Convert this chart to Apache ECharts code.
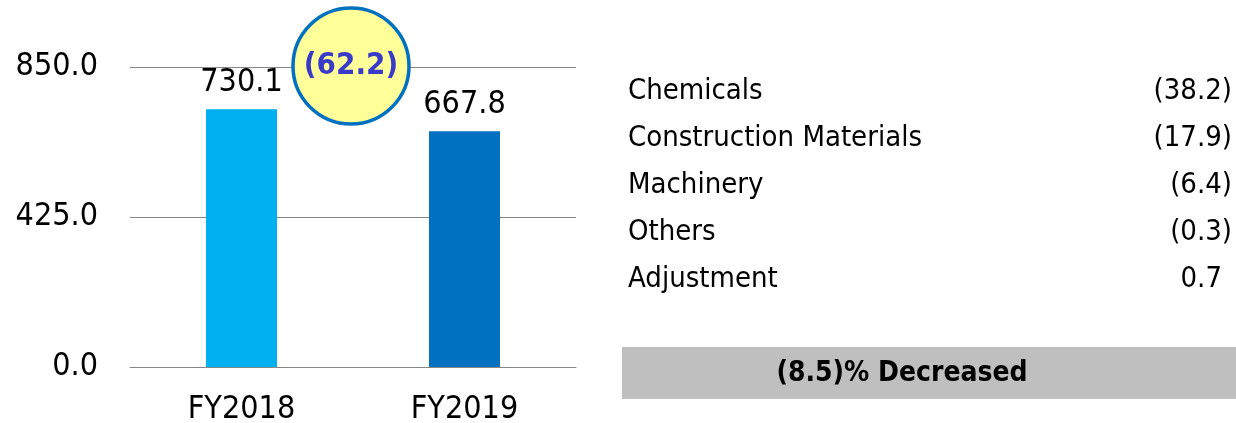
<!DOCTYPE html>
<html>
<head>
<meta charset="utf-8">
<script src="https://cdn.jsdelivr.net/npm/echarts@6/dist/echarts.min.js"></script>
<style>
  html, body { margin: 0; padding: 0; background: #fff; }
  #chart { width: 1236px; height: 423px; }
</style>
</head>
<body>
<div id="chart"></div>
<script>
// chart data
const years = ['FY2018', 'FY2019']
const sales = [730.1, 667.8]
const barColors = ['#00b0f0', '#0070c0']
const yTicks = [0, 425, 850]
const diffText = '(62.2)'
// breakdown table
const segments = ['Chemicals', 'Construction Materials', 'Machinery', 'Others', 'Adjustment']
const segmentDiff = [-38.2, -17.9, -6.4, -0.3, 0.7]
const summaryText = '(8.5)% Decreased'

const font = '"DejaVu Sans Condensed", "DejaVu Sans"'
const chart = echarts.init(document.getElementById('chart'))

const fmt = (v) => v < 0 ? '(' + Math.abs(v).toFixed(1) + ')' : v.toFixed(1)

const graphic = []
segments.forEach((name, i) => {
  const y = 91 + i * 47.2
  graphic.push({
    type: 'text', x: 628, y: y,
    style: { text: name, font: '29px ' + font, fill: '#000', textVerticalAlign: 'middle' }
  })
  const v = segmentDiff[i]
  graphic.push({
    type: 'text', x: v < 0 ? 1232 : 1222, y: y,
    style: { text: fmt(v), font: '29px ' + font, fill: '#000', textAlign: 'right', textVerticalAlign: 'middle' }
  })
})
graphic.push({
  type: 'rect', shape: { x: 622, y: 347, width: 620, height: 52 },
  style: { fill: '#bfbfbf' }
})
graphic.push({
  type: 'text', x: 902, y: 374,
  style: { text: summaryText, font: 'bold 28px ' + font, fill: '#000', textAlign: 'center', textVerticalAlign: 'middle' }
})
graphic.push({
  type: 'circle', shape: { cx: 351, cy: 66, r: 58 }, z: 100,
  style: { fill: '#ffff99', stroke: '#0070c0', lineWidth: 3.5 }
})
graphic.push({
  type: 'text', x: 351, y: 66, z: 101,
  style: { text: diffText, font: 'bold 31px ' + font, fill: '#3a3ac8', textAlign: 'center', textVerticalAlign: 'middle' }
})

const options = {
  animation: false,
  grid: { left: 130, right: 660, top: 67, bottom: 56, containLabel: false, outerBoundsMode: 'none' },
  xAxis: {
    type: 'category',
    data: years,
    axisTick: { show: false },
    axisLine: { lineStyle: { color: '#868686', width: 1 } },
    axisLabel: { fontFamily: font, fontSize: 32, color: '#000', margin: 27 }
  },
  yAxis: {
    type: 'value',
    min: yTicks[0],
    max: yTicks[yTicks.length - 1],
    interval: yTicks[1] - yTicks[0],
    axisLine: { show: false },
    axisTick: { show: false },
    splitLine: { lineStyle: { color: '#868686', width: 1 } },
    axisLabel: {
      fontFamily: font, fontSize: 32, color: '#000', margin: 32,
      padding: [5, 0, 0, 0],
      formatter: (v) => v.toFixed(1)
    }
  },
  series: [{
    type: 'bar',
    barWidth: 71,
    data: sales.map((v, i) => ({ value: v, itemStyle: { color: barColors[i] } })),
    label: {
      show: true,
      position: 'top',
      distance: 11,
      fontFamily: font,
      fontSize: 32,
      color: '#000',
      formatter: (p) => p.value.toFixed(1)
    }
  }],
  graphic: graphic
}
chart.setOption(options)
</script>
</body>
</html>
